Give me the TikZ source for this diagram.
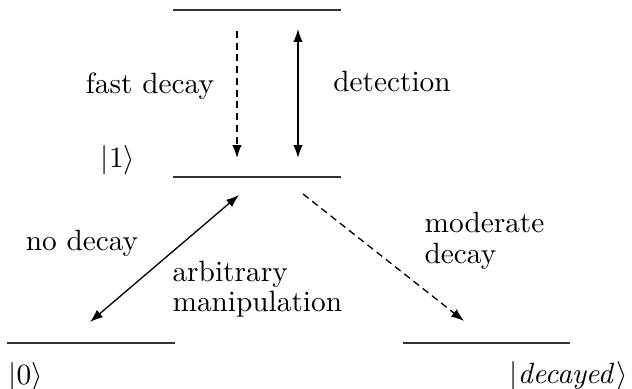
\documentclass[tikz,border=0pt]{standalone}
\usetikzlibrary{arrows.meta}
\begin{document}
\begin{tikzpicture}[x=0.341pt,y=-0.341pt,
  level/.style={line width=0.55pt,black!80},
  trans/.style={line width=0.45pt,-{Latex[length=4.4pt,width=3.2pt]}},
  both/.style={line width=0.45pt,{Latex[length=4.4pt,width=3.2pt]}-{Latex[length=4.4pt,width=3.2pt]}},
  dashy/.style={dash pattern=on 2.4pt off 1.6pt},
  lbl/.style={inner sep=0pt,font=\fontsize{10}{10.4}\selectfont,align=left}]
\useasboundingbox (0,0) rectangle (632,389);
% energy levels
\coordinate (topL) at (173,10);  \coordinate (topR) at (341,10);
\coordinate (oneL) at (173,177); \coordinate (oneR) at (341,177);
\coordinate (zeroL) at (7,343);  \coordinate (zeroR) at (175,343);
\coordinate (decL) at (403,343); \coordinate (decR) at (570,343);
\draw[level] (topL) -- (topR);
\draw[level] (oneL) -- (oneR);
\draw[level] (zeroL) -- (zeroR);
\draw[level] (decL) -- (decR);
% transitions
\coordinate (fdA) at (237,31);  \coordinate (fdB) at (237,158);
\coordinate (detA) at (298,29); \coordinate (detB) at (298,158);
\coordinate (manA) at (90,322); \coordinate (manB) at (239,195);
\coordinate (modA) at (303,194);\coordinate (modB) at (464,321);
\draw[trans,dashy] (fdA) -- (fdB);
\draw[both] (detA) -- (detB);
\draw[both] (manA) -- (manB);
\draw[trans,dashy] (modA) -- (modB);
% labels
\node[lbl] (lfast) at (150,86) {fast decay};
\node[lbl] (ldet) at (392,82) {detection};
\node[lbl] (lone) at (118,160) {$|1\rangle$};
\node[lbl] (lno) at (82,243) {no decay};
\node[lbl,anchor=west] (larb) at (172,289) {arbitrary\\manipulation};
\node[lbl,anchor=west] (lmod) at (424,241) {moderate\\decay};
\node[lbl,anchor=west] (lzero) at (8,377) {$|0\rangle$};
\node[lbl,anchor=east] (ldec) at (628,376) {$|\mathit{decayed}\rangle$};
\end{tikzpicture}
\end{document}
